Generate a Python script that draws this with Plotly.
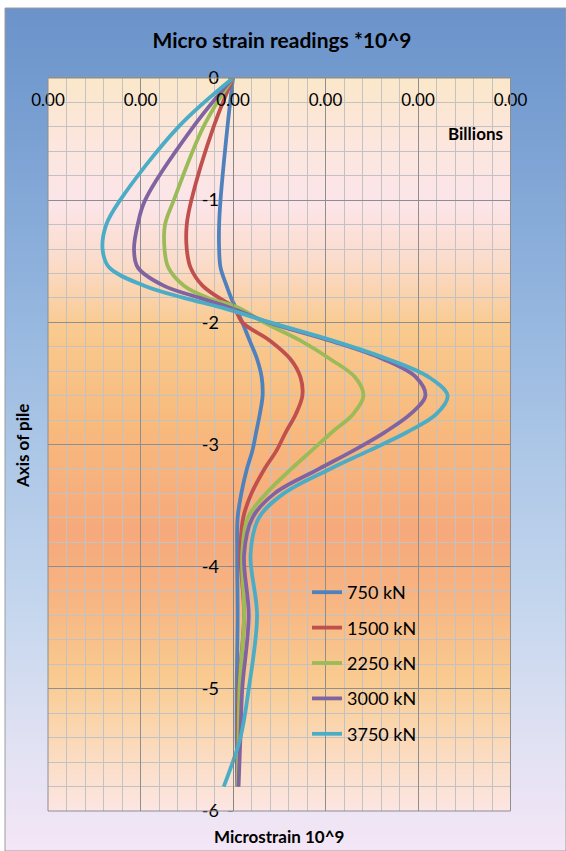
import numpy as np
import plotly.graph_objects as go

# ---------------------------------------------------------------------------
# Strain profiles along the pile (strain values in millions of units,
# shown on an axis whose display unit is billions)
# ---------------------------------------------------------------------------
DEPTH = [0, -0.4, -1.0, -1.2, -1.4, -1.55, -1.7, -1.8, -1.88, -2.0, -2.15, -2.3,
         -2.45, -2.6, -2.75, -2.9, -3.05, -3.2, -3.4, -3.6, -3.9, -4.4, -5.0, -5.4, -5.8]

STRAIN_750 = [0, -0.06, -0.135, -0.15, -0.15, -0.135, -0.07, -0.02, 0.03, 0.10, 0.18, 0.26,
              0.31, 0.32, 0.29, 0.25, 0.21, 0.15, 0.09, 0.05, 0.045, 0.05, 0.04, 0.04, 0.045]
STRAIN_1500 = [0, -0.21, -0.45, -0.50, -0.50, -0.46, -0.33, -0.15, 0.01, 0.10, 0.40, 0.62,
               0.73, 0.75, 0.68, 0.57, 0.47, 0.34, 0.20, 0.11, 0.08, 0.12, 0.06, 0.05, 0.05]
STRAIN_2250 = [0, -0.32, -0.64, -0.735, -0.74, -0.70, -0.53, -0.27, 0.06, 0.33, 0.73, 1.05,
               1.32, 1.41, 1.30, 1.07, 0.85, 0.63, 0.36, 0.16, 0.10, 0.12, 0.07, 0.06, 0.05]
STRAIN_3000 = [0, -0.43, -0.95, -1.03, -1.07, -1.03, -0.75, -0.36, -0.03, 0.38, 1.05, 1.62,
               1.98, 2.08, 1.92, 1.64, 1.30, 0.93, 0.45, 0.21, 0.12, 0.17, 0.10, 0.08, 0.06]
STRAIN_3750 = [0, -0.59, -1.22, -1.37, -1.41, -1.34, -0.96, -0.53, -0.12, 0.40, 1.08, 1.67,
               2.12, 2.32, 2.20, 1.88, 1.47, 1.05, 0.55, 0.28, 0.19, 0.26, 0.17, 0.08, -0.10]

LOAD_LABELS = ["750 kN", "1500 kN", "2250 kN", "3000 kN", "3750 kN"]
SERIES = [STRAIN_750, STRAIN_1500, STRAIN_2250, STRAIN_3000, STRAIN_3750]
COLORS = ["#4F81BD", "#C0504D", "#9BBB59", "#8064A2", "#4BACC6"]

X_TICK_VALUES = [-2, -1, 0, 1, 2, 3]
X_TICK_LABELS = ["0.00", "0.00", "0.00", "0.00", "0.00", "0.00"]
Y_TICK_VALUES = [0, -1, -2, -3, -4, -5, -6]
Y_TICK_LABELS = ["0", "-1", "-2", "-3", "-4", "-5", "-6"]

# ---------------------------------------------------------------------------
W, H = 566, 851
FONT = "Lato"


def fx(px):
    return px / W


def fy(py):
    return 1 - py / H


PLOT_L, PLOT_R, PLOT_T, PLOT_B = 48, 510.5, 78, 811
PLOT_XDOM = [fx(PLOT_L), fx(PLOT_R)]
PLOT_YDOM = [fy(PLOT_B), fy(PLOT_T)]

fig = go.Figure()

# chart-area background gradient (blue at top, pale lilac at bottom)
grad = np.linspace(0, 1, 120)
fig.add_trace(go.Heatmap(
    x=[0, 1], y=grad, z=[[v, v] for v in grad],
    colorscale=[[0.0, "#F4E6F6"], [0.12, "#E2E2F3"], [0.28, "#C6D7EE"],
                [0.45, "#B0C9E8"], [0.65, "#93B5DE"], [0.85, "#7BA1D3"], [1.0, "#6B93CA"]],
    zmin=0, zmax=1, zsmooth="best", showscale=False, hoverinfo="skip",
    xaxis="x", yaxis="y"))

# plot-area background gradient (warm sunset tones)
fig.add_trace(go.Heatmap(
    x=[0, 1], y=grad, z=[[v, v] for v in grad],
    colorscale=[[0.0, "#FCE6E4"], [0.07, "#FBDDC4"], [0.18, "#F9CB91"], [0.29, "#F7B582"],
                [0.38, "#F6A97C"], [0.53, "#F8BA7D"], [0.66, "#F9CA8F"], [0.75, "#FBDCCB"],
                [0.83, "#FCE5E9"], [0.92, "#FCE6DC"], [1.0, "#FBE7C9"]],
    zmin=0, zmax=1, zsmooth="best", showscale=False, hoverinfo="skip",
    xaxis="x2", yaxis="y2"))

# strain profiles
for name, vals, col in zip(LOAD_LABELS, SERIES, COLORS):
    fig.add_trace(go.Scatter(
        x=vals, y=DEPTH, name=name, mode="lines",
        line=dict(color=col, width=3.8, shape="spline", smoothing=1.0),
        legendgroup=name, xaxis="x3", yaxis="y3"))

hidden = dict(visible=False, range=[0, 1], fixedrange=True, automargin=False)


def label(text, px, py, size, angle=0):
    return dict(text=text, x=fx(px), y=fy(py), xref="paper", yref="paper",
                xanchor="center", yanchor="middle", showarrow=False, textangle=angle,
                font=dict(size=size, family=FONT, color="#000000"))


fig.update_layout(
    width=W, height=H,
    margin=dict(l=0, r=0, t=0, b=0, pad=0, autoexpand=False),
    paper_bgcolor="white",
    plot_bgcolor="rgba(0,0,0,0)",
    font=dict(family=FONT, color="#000000"),
    xaxis=dict(hidden, domain=[fx(5), 1]),
    yaxis=dict(hidden, domain=[0, fy(8)]),
    xaxis2=dict(hidden, domain=PLOT_XDOM, anchor="y2"),
    yaxis2=dict(hidden, domain=PLOT_YDOM, anchor="x2"),
    xaxis3=dict(
        domain=PLOT_XDOM, anchor="y3", side="top", range=[-2, 3], automargin=False,
        tickmode="array", tickvals=X_TICK_VALUES, ticktext=X_TICK_LABELS,
        ticklabelposition="inside", ticklabeloverflow="allow", ticklabelstandoff=17,
        tickfont=dict(size=17, family=FONT, color="#000000"),
        showgrid=True, gridcolor="#8E8E8E", gridwidth=1,
        minor=dict(tick0=0, dtick=0.2, showgrid=True, gridcolor="#C2C2C2", gridwidth=1),
        showline=True, linecolor="#8E8E8E", linewidth=1,
        zeroline=False, ticks="", fixedrange=True),
    yaxis3=dict(
        domain=PLOT_YDOM, anchor="free", position=fx(232.5), range=[-6, 0], automargin=False,
        tickmode="array", tickvals=Y_TICK_VALUES, ticktext=Y_TICK_LABELS,
        tickfont=dict(size=18, family=FONT, color="#000000"),
        showgrid=True, gridcolor="#8E8E8E", gridwidth=1,
        minor=dict(tick0=0, dtick=0.2, showgrid=True, gridcolor="#C2C2C2", gridwidth=1),
        showline=True, linecolor="#868686", linewidth=1,
        ticks="outside", ticklen=5, tickcolor="#868686", ticklabelstandoff=5,
        zeroline=False, fixedrange=True),
    title=dict(text="<b>Micro strain readings *10^9</b>", x=fx(282), xref="paper",
               xanchor="center", y=fy(41), yref="paper", yanchor="middle", automargin=False,
               font=dict(size=21, family=FONT, color="#000000")),
    legend=dict(x=fx(307), y=fy(574), xanchor="left", yanchor="top",
                bgcolor="rgba(0,0,0,0)", borderwidth=0, tracegroupgap=9,
                font=dict(size=18, family=FONT, color="#000000")),
    annotations=[
        label("<b>Billions</b>", 475, 133, 17),
        label("<b>Microstrain 10^9</b>", 279, 836, 17),
        label("<b>Axis of pile</b>", 22, 446, 17, angle=-90),
    ],
    shapes=[
        # outer chart border
        dict(type="rect", xref="paper", yref="paper", x0=fx(5), x1=1.0, y0=0.0, y1=fy(8),
             line=dict(color="#9C9C9C", width=1), fillcolor="rgba(0,0,0,0)", layer="above"),
        # plot-area frame
        dict(type="rect", xref="paper", yref="paper", x0=PLOT_XDOM[0], x1=PLOT_XDOM[1],
             y0=PLOT_YDOM[0], y1=PLOT_YDOM[1],
             line=dict(color="#8E8E8E", width=1), fillcolor="rgba(0,0,0,0)", layer="above"),
    ],
)

fig.write_html("out.html")
